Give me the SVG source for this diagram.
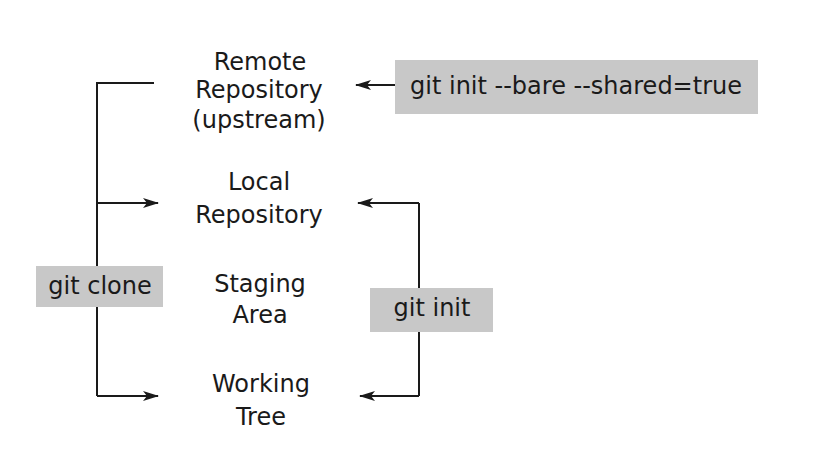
<svg xmlns="http://www.w3.org/2000/svg" width="829" height="452" viewBox="0 0 829 452">
<style>
text{font-family:"DejaVu Sans","Liberation Sans",sans-serif;font-size:24px;fill:#1a1a1a;text-anchor:middle}
.box{fill:#c8c8c8}
.ln{fill:none;stroke:#1a1a1a;stroke-width:2}
</style>
<defs>
<marker id="ah" viewBox="0 0 16 10" refX="15" refY="5" markerWidth="16" markerHeight="10" markerUnits="userSpaceOnUse" orient="auto">
<path d="M0,0 L16,5 L0,10 L4,5 Z" fill="#1a1a1a"/>
</marker>
</defs>
<rect width="829" height="452" fill="#ffffff"/>
<g id="connectors">
<path class="ln" d="M154,83 H97 V396"/>
<path class="ln" d="M97,203 H158" marker-end="url(#ah)"/>
<path class="ln" d="M97,396 H158" marker-end="url(#ah)"/>
<path class="ln" d="M395,85 H356" marker-end="url(#ah)"/>
<path class="ln" d="M419,203 V396"/>
<path class="ln" d="M419,203 H358" marker-end="url(#ah)"/>
<path class="ln" d="M419,396 H360" marker-end="url(#ah)"/>
</g>
<g id="remote">
<text x="260" y="70">Remote</text>
<text x="259" y="98">Repository</text>
<text x="259" y="128">(upstream)</text>
</g>
<g id="local">
<text x="259" y="190">Local</text>
<text x="259" y="223">Repository</text>
</g>
<g id="staging">
<text x="260" y="292">Staging</text>
<text x="260" y="323">Area</text>
</g>
<g id="working">
<text x="261" y="392">Working</text>
<text x="261" y="425">Tree</text>
</g>
<g id="label-bare">
<rect class="box" x="395" y="60" width="363" height="54"/>
<text x="576" y="94">git init --bare --shared=true</text>
</g>
<g id="label-clone">
<rect class="box" x="36" y="266" width="127" height="41"/>
<text x="100" y="294">git clone</text>
</g>
<g id="label-init">
<rect class="box" x="370" y="288" width="123" height="44"/>
<text x="432" y="316">git init</text>
</g>
</svg>
